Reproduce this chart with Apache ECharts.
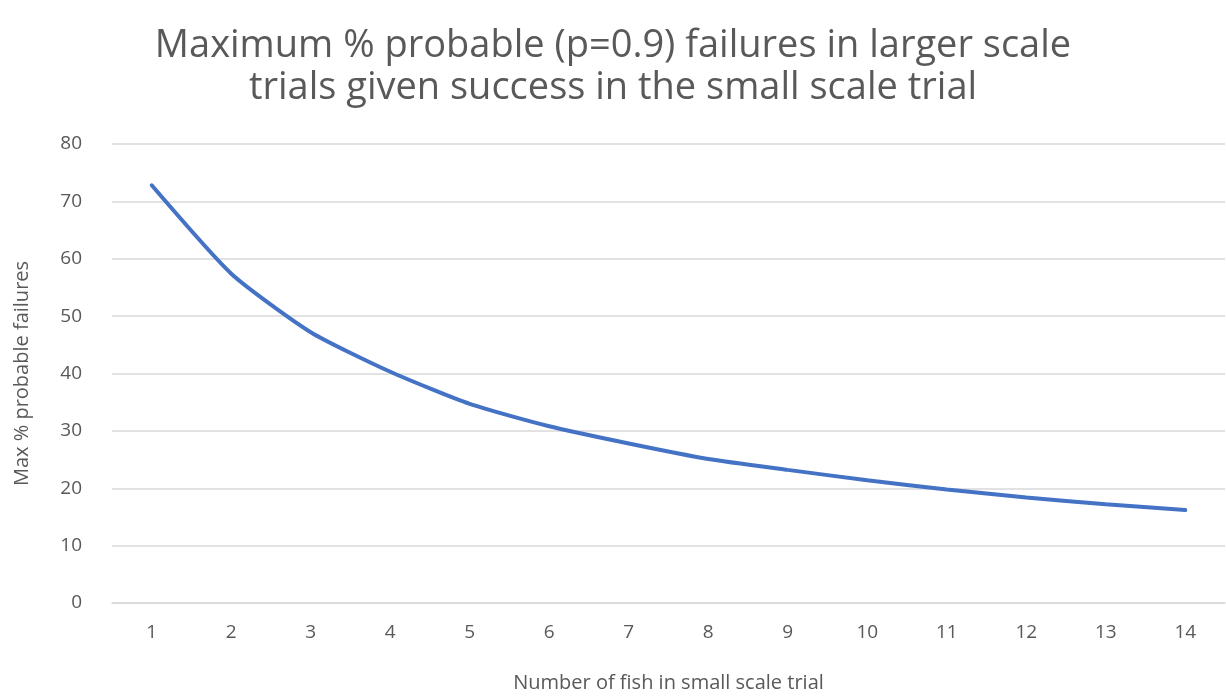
<!DOCTYPE html>
<html>
<head>
<meta charset="utf-8">
<script src="https://cdn.jsdelivr.net/npm/echarts@6/dist/echarts.min.js"></script>
<style>
  html, body { margin: 0; padding: 0; background: #fff; }
  #chart { width: 1226px; height: 697px; }
</style>
</head>
<body>
<div id="chart"></div>
<script>
const fishCounts = ["1", "2", "3", "4", "5", "6", "7", "8", "9", "10", "11", "12", "13", "14"];
const maxFailures = [72.8, 57.4, 47.2, 40.3, 34.7, 30.8, 27.8, 25.1, 23.2, 21.4, 19.8, 18.4, 17.2, 16.2];

const textColor = "#595959";
const fontName = "Open Sans";

const myChart = echarts.init(document.getElementById("chart"));
const option = {
  backgroundColor: "#fff",
  animation: false,
  title: {
    text: "Maximum % probable (p=0.9) failures in larger scale\ntrials given success in the small scale trial",
    left: "center",
    top: 20,
    textStyle: {
      fontFamily: fontName,
      fontSize: 38,
      fontWeight: "normal",
      color: textColor,
      lineHeight: 42,
    },
  },
  grid: {
    left: 112,
    right: 1,
    top: 144,
    bottom: 94,
    outerBoundsMode: "none",
  },
  xAxis: {
    type: "category",
    data: fishCounts,
    boundaryGap: true,
    name: "Number of fish in small scale trial",
    nameLocation: "middle",
    nameGap: 70,
    nameTextStyle: { fontFamily: fontName, fontSize: 20, color: textColor },
    axisLine: { lineStyle: { color: "#d9d9d9", width: 1.5 } },
    axisTick: { show: false },
    axisLabel: { fontFamily: fontName, fontSize: 19, color: textColor, margin: 20 },
  },
  yAxis: {
    type: "value",
    min: 0,
    max: 80,
    interval: 10,
    name: "Max % probable failures",
    nameLocation: "middle",
    nameGap: 80,
    nameTextStyle: { fontFamily: fontName, fontSize: 20, color: textColor },
    axisLine: { show: false },
    axisTick: { show: false },
    axisLabel: { fontFamily: fontName, fontSize: 19, color: textColor, margin: 30 },
    splitLine: { lineStyle: { color: "#d9d9d9", width: 1.5 } },
  },
  series: [
    {
      type: "line",
      data: maxFailures,
      smooth: 0.2,
      showSymbol: false,
      lineStyle: { color: "#4472C4", width: 4, cap: "round" },
    },
  ],
};
myChart.setOption(option);
window.onresize = function () {
  myChart.resize();
};
</script>
</body>
</html>
